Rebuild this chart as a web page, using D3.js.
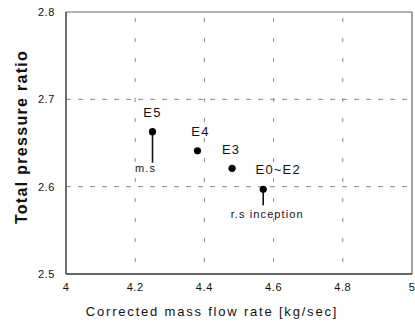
<!DOCTYPE html>
<html>
<head>
<meta charset="utf-8">
<script src="https://cdn.jsdelivr.net/npm/d3@7"></script>
<style>
  html, body { margin: 0; padding: 0; background: #fff; }
  svg { display: block; }
  text { font-family: "Liberation Sans", Arial, sans-serif; fill: #111; }
</style>
</head>
<body>
<svg id="chart" width="415" height="323"></svg>
<script>
// Operating points: corrected mass flow rate vs. total pressure ratio
const pointNames = ["E5", "E4", "E3", "E0~E2"];
const massFlow = [4.25, 4.38, 4.48, 4.57];
const pressureRatio = [2.663, 2.641, 2.621, 2.597];

// Annotated events (stall markers) hanging below a point
const eventLabels = ["m.s", "r.s inception"];
const eventPointIndex = [0, 3];

const xTicks = [4, 4.2, 4.4, 4.6, 4.8, 5];
const xTickLabels = ["4", "4.2", "4.4", "4.6", "4.8", "5"];
const yTicks = [2.5, 2.6, 2.7, 2.8];
const yTickLabels = ["2.5", "2.6", "2.7", "2.8"];

const svg = d3.select("#chart");
const margin = { left: 66, right: 3, top: 12, bottom: 49 };
const W = 415, H = 323;

const x = d3.scaleLinear().domain([4, 5]).range([margin.left, W - margin.right]);
const y = d3.scaleLinear().domain([2.5, 2.8]).range([H - margin.bottom, margin.top]);

// Dashed grid
svg.append("g")
  .selectAll("line")
  .data(xTicks.slice(1, -1))
  .join("line")
  .attr("x1", d => x(d)).attr("x2", d => x(d))
  .attr("y1", y(2.8)).attr("y2", y(2.5))
  .attr("stroke", "#888").attr("stroke-width", 1)
  .attr("stroke-dasharray", "4,16")
  .attr("stroke-dashoffset", -6);

svg.append("g")
  .selectAll("line")
  .data(yTicks.slice(1, -1))
  .join("line")
  .attr("x1", x(4)).attr("x2", x(5))
  .attr("y1", d => y(d)).attr("y2", d => y(d))
  .attr("stroke", "#888").attr("stroke-width", 1)
  .attr("stroke-dasharray", "5,7");

// Frame
svg.append("line").attr("x1", x(4)).attr("x2", x(5)).attr("y1", y(2.8)).attr("y2", y(2.8))
  .attr("stroke", "#666").attr("stroke-width", 1.2);
svg.append("line").attr("x1", x(5)).attr("x2", x(5)).attr("y1", y(2.8)).attr("y2", y(2.5))
  .attr("stroke", "#666").attr("stroke-width", 1.2);
svg.append("line").attr("x1", x(4)).attr("x2", x(4)).attr("y1", y(2.8)).attr("y2", y(2.5))
  .attr("stroke", "#333").attr("stroke-width", 1.4);
svg.append("line").attr("x1", x(4)).attr("x2", x(5)).attr("y1", y(2.5)).attr("y2", y(2.5))
  .attr("stroke", "#333").attr("stroke-width", 1.4);

// Tick labels
svg.append("g")
  .selectAll("text")
  .data(xTicks)
  .join("text")
  .attr("x", d => x(d)).attr("y", y(2.5) + 17)
  .attr("text-anchor", "middle")
  .attr("font-size", 11).attr("letter-spacing", 0.6)
  .text((d, i) => xTickLabels[i]);

svg.append("g")
  .selectAll("text")
  .data(yTicks)
  .join("text")
  .attr("x", x(4) - 11).attr("y", d => y(d) + 4)
  .attr("text-anchor", "end")
  .attr("font-size", 11).attr("letter-spacing", 0.6)
  .text((d, i) => yTickLabels[i]);

// Axis titles
svg.append("text")
  .attr("x", 212).attr("y", 316)
  .attr("text-anchor", "middle")
  .attr("font-size", 13).attr("letter-spacing", 1.8)
  .text("Corrected mass flow rate [kg/sec]");

svg.append("text")
  .attr("transform", `translate(27,137) rotate(-90)`)
  .attr("text-anchor", "middle")
  .attr("font-size", 16).attr("font-weight", "bold")
  .attr("letter-spacing", 1.3)
  .text("Total pressure ratio");

// Event stems and labels
const stemLen = [31, 16];
const evLabelDy = [40, 29];
const evLabelDx = [-7, 4];
eventLabels.forEach((lab, k) => {
  const i = eventPointIndex[k];
  const px = x(massFlow[i]), py = y(pressureRatio[i]);
  svg.append("line")
    .attr("x1", px).attr("x2", px)
    .attr("y1", py).attr("y2", py + stemLen[k])
    .attr("stroke", "#111").attr("stroke-width", 1.6);
  svg.append("text")
    .attr("x", px + evLabelDx[k]).attr("y", py + evLabelDy[k])
    .attr("text-anchor", "middle")
    .attr("font-size", 11).attr("letter-spacing", 1.1)
    .text(lab);
});

// Points
svg.append("g")
  .selectAll("circle")
  .data(pointNames)
  .join("circle")
  .attr("cx", (d, i) => x(massFlow[i]))
  .attr("cy", (d, i) => y(pressureRatio[i]))
  .attr("r", 3.6)
  .attr("fill", "#000");

// Point names
const nameDx = [0, 3, -1, 15];
const nameDy = [-15, -15, -14, -15];
svg.append("g")
  .selectAll("text")
  .data(pointNames)
  .join("text")
  .attr("x", (d, i) => x(massFlow[i]) + nameDx[i])
  .attr("y", (d, i) => y(pressureRatio[i]) + nameDy[i])
  .attr("text-anchor", "middle")
  .attr("font-size", 13).attr("letter-spacing", 1.2)
  .text(d => d);
</script>
</body>
</html>
